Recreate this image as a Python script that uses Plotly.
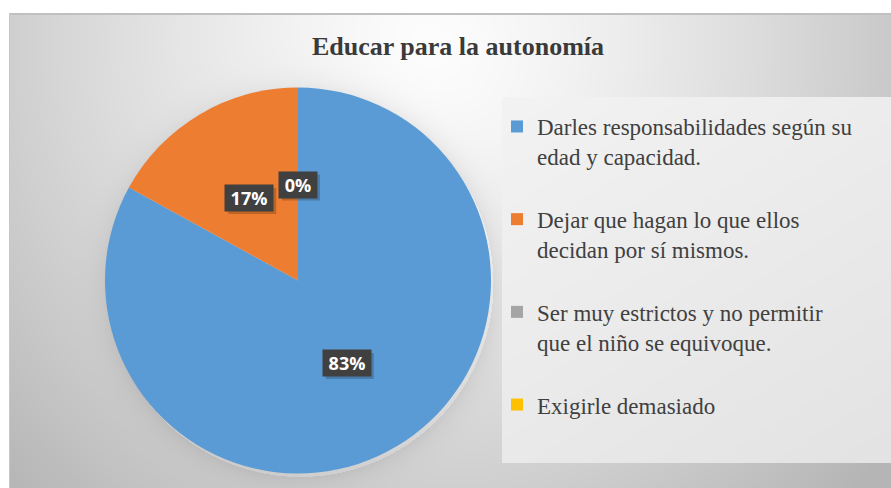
import base64, struct, zlib
import numpy as np
import plotly.graph_objects as go

# ---- data ----
labels = [
    "Darles responsabilidades según su<br>edad y capacidad.",
    "Dejar que hagan lo que ellos<br>decidan por sí mismos.",
    "Ser muy estrictos y no permitir<br>que el niño se equivoque.",
    "Exigirle demasiado",
]
values = [83, 17, 0, 0]
colors = ["#5B9BD5", "#ED7D31", "#A5A5A5", "#FFC000"]
title = "Educar para la autonomía"

W, H = 891, 488
# pie geometry (pixels)
PCX, PCY, PR = 298, 280.5, 193

# ---- background image (gradient like the office chart area) ----
yy, xx = np.mgrid[0:H, 0:W].astype(float)
t = np.sqrt(((xx - 430) / 520) ** 2 + ((yy - 45) / 550) ** 2)
bg = 253 - 60 * np.clip(t, 0, 1.15) ** 1.3
# soft shadow around pie
d = np.sqrt((xx - PCX - 2) ** 2 + (yy - PCY - 3) ** 2) - PR
bg = bg - np.where(d > 0, 16 * np.exp(-d / 12), 0)
# legend box
lx0, lx1, ly0, ly1 = 502, 891, 97, 463
inbox = (xx >= lx0) & (xx < lx1) & (yy >= ly0) & (yy < ly1)
lb = 243 - 16 * (0.4 * (xx - lx0) / (lx1 - lx0) + 0.6 * (yy - ly0) / (ly1 - ly0))
bg = np.where(inbox, lb, bg)
# outer white margin and frame line
bg = np.where((yy < 13) | (xx < 9), 255, bg)
bg = np.where(((yy >= 13) & (yy < 15) & (xx >= 9)), 192, bg)
bg = np.where(((xx >= 9) & (xx < 10) & (yy >= 13)), 200, bg)
arr = np.clip(bg, 0, 255).astype(np.uint8)
rgb = np.stack([arr, arr, arr], axis=-1)


def png_bytes(a):
    h, w, _ = a.shape
    raw = b"".join(b"\x00" + a[i].tobytes() for i in range(h))

    def chunk(tag, data):
        c = struct.pack(">I", len(data)) + tag + data
        return c + struct.pack(">I", zlib.crc32(tag + data) & 0xFFFFFFFF)

    ihdr = struct.pack(">IIBBBBB", w, h, 8, 2, 0, 0, 0)
    return (b"\x89PNG\r\n\x1a\n" + chunk(b"IHDR", ihdr)
            + chunk(b"IDAT", zlib.compress(raw, 9)) + chunk(b"IEND", b""))


src = "data:image/png;base64," + base64.b64encode(png_bytes(rgb)).decode()

# ---- figure ----
dom_x = [(PCX - PR) / W, (PCX + PR) / W]
dom_y = [(H - PCY - PR) / H, (H - PCY + PR) / H]

legend_labels = [lab + "<br> " if i < len(labels) - 1 else lab for i, lab in enumerate(labels)]

fig = go.Figure(go.Pie(
    labels=legend_labels,
    values=values,
    marker=dict(colors=colors, line=dict(width=0)),
    sort=False,
    direction="clockwise",
    rotation=0,
    textinfo="none",
    hoverinfo="label+percent",
    domain=dict(x=dom_x, y=dom_y),
))

# data labels positioned from the slice mid-angles (identical positions drawn once)
total = sum(values)
cum = 0.0
annotations = []
shapes = []
seen = set()
for v in values:
    mid = (cum + v / 2) / total
    cum += v
    key = round(mid % 1.0, 6)
    if key in seen:
        continue
    seen.add(key)
    ang = 2 * np.pi * mid
    px = PCX + 0.497 * PR * np.sin(ang)
    py = PCY - 0.497 * PR * np.cos(ang)
    ax, ay = px / W, (H - py) / H
    txt = f"{round(100 * v / total)}%"
    bw = 10 * len(txt) + 10
    # drop shadow of the label box
    hw, hh = (bw + 8) / 2, 13
    shapes.append(dict(type="rect", xref="paper", yref="paper", layer="above",
                       x0=(px - hw + 3) / W, x1=(px + hw + 3) / W,
                       y0=(H - py - hh - 3) / H, y1=(H - py + hh - 3) / H,
                       line=dict(width=0), fillcolor="rgba(0,0,0,0.2)"))
    annotations.append(dict(
        x=ax, y=ay, xref="paper", yref="paper", showarrow=False,
        xanchor="center", yanchor="middle", width=bw, height=18, borderpad=4,
        text=f"<b>{txt}</b>",
        bgcolor="#404040", font=dict(color="white", size=18, family="Open Sans"),
    ))

fig.update_layout(
    width=W, height=H,
    margin=dict(l=0, r=0, t=0, b=0),
    paper_bgcolor="white",
    plot_bgcolor="rgba(0,0,0,0)",
    images=[dict(source=src, xref="paper", yref="paper", x=0, y=1, sizex=1, sizey=1,
                 sizing="stretch", xanchor="left", yanchor="top", layer="below")],
    title=dict(text=f"<b>{title}</b>", x=458 / W, y=(H - 46) / H, xanchor="center", yanchor="middle",
               font=dict(family="Liberation Serif", size=26, color="#3a3a3a")),
    showlegend=True,
    legend=dict(
        x=497 / W, y=(H - 105) / H, xanchor="left", yanchor="top",
        bgcolor="rgba(0,0,0,0)", valign="top",
        font=dict(family="Liberation Serif", size=23, color="#404040"),
        itemclick=False,
    ),
    shapes=shapes,
    annotations=annotations,
)

fig.write_html("out.html", config={"displayModeBar": False},
               post_script="document.body.style.margin='0px';")
